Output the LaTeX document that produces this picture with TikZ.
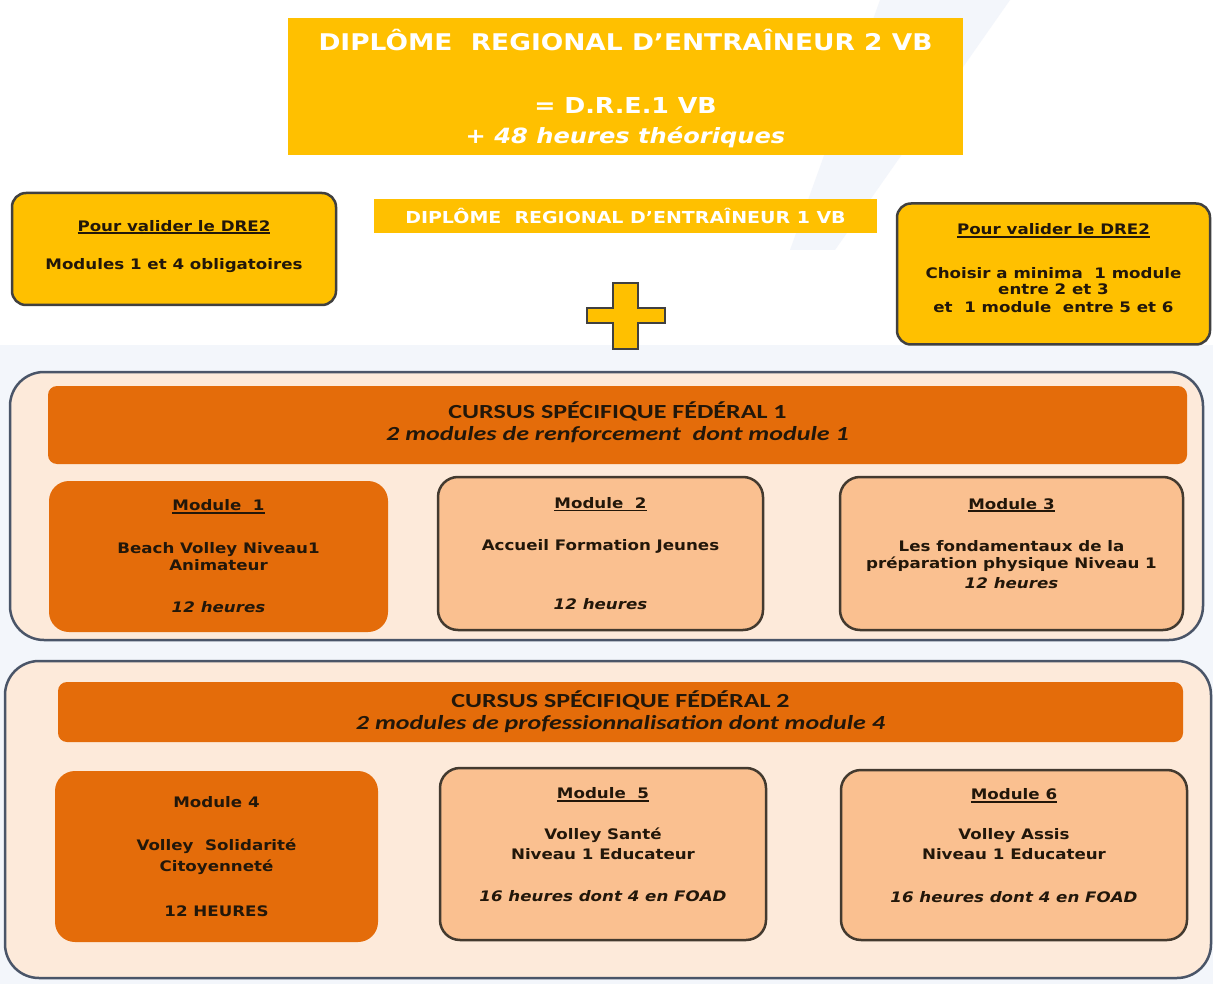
\documentclass[tikz,border=0pt]{standalone}
\usepackage{fontspec}
\setmainfont{DejaVu Sans}[FakeStretch=1.15]
\newfontfamily\calfont{Carlito}[FakeStretch=1.3]
\usepackage{tikz}
\definecolor{gold}{HTML}{FFC000}
\definecolor{burnt}{HTML}{E46C0A}
\definecolor{apricot}{HTML}{FAC090}
\definecolor{peach}{HTML}{FDEADA}
\definecolor{slate}{HTML}{4A5568}
\definecolor{ink}{HTML}{22170A}
\definecolor{haze}{HTML}{F3F6FB}
\newcommand{\ulined}[1]{\setbox0\hbox{#1}\rlap{\raisebox{-3pt}{\rule{\wd0}{1.6pt}}}\box0}

\tikzset{
	goldbox/.style={draw=darkgray, line width=2.5pt, fill=gold, rounded corners=14pt, text=ink, align=center, font=\fontsize{14.5}{16}\selectfont\bfseries},
	banner/.style={fill=gold, text=white, align=center, font=\bfseries},
	cursus/.style={draw=slate, line width=2.5pt, fill=peach, rounded corners=34pt},
	headbar/.style={fill=burnt, rounded corners=9pt, text=ink, align=center, font=\calfont\fontsize{20}{22}\selectfont\bfseries},
	modfull/.style={fill=burnt, rounded corners=20pt, text=ink, align=center, font=\fontsize{14.5}{17}\selectfont\bfseries},
	modopt/.style={modfull, fill=apricot, draw=ink!85, line width=2.5pt}
}

\begin{document}
\begin{tikzpicture}[x=1pt,y=-1pt]
	\useasboundingbox[fill=white] (0,0) rectangle (1213,984);
	\fill[haze] (880,0) -- (1010,0) -- (835,250) -- (790,250) -- cycle;
	\fill[haze] (0,345) rectangle (1213,984);
%
	\node[banner, minimum width=675pt, minimum height=137pt] (dre2) at (625.5,86.5)
		{\fontsize{23}{27}\selectfont DIPLÔME~ REGIONAL D'ENTRAÎNEUR 2 VB\\[46pt]
		 \fontsize{22}{26}\selectfont = D.R.E.1 VB\\[12pt]
		 \fontsize{21}{24}\selectfont\itshape + 48 heures théoriques\\[-12pt] \mbox{}};
	\node[banner, minimum width=503pt, minimum height=34pt, font=\fontsize{16.5}{19}\selectfont\bfseries] (dre1) at (625.5,216)
		{DIPLÔME~ REGIONAL D'ENTRAÎNEUR 1 VB};
	\node[goldbox, minimum width=324pt, minimum height=112pt] (oblig) at (174,249)
		{\ulined{Pour valider le DRE2}\\[22pt] Modules 1 et 4 obligatoires\\[-7pt] \mbox{}};
	\node[goldbox, minimum width=313pt, minimum height=141pt] (choix) at (1053.5,274)
		{\ulined{Pour valider le DRE2}\\[28pt] Choisir a minima~ 1 module\\ entre 2 et 3\\[2pt] et~ 1 module~ entre 5 et 6\\[-4pt] \mbox{}};
	\draw[draw=darkgray, line width=2.5pt, fill=gold] (613,283) -- (638,283) -- (638,308) -- (665,308) -- (665,323) -- (638,323)
		-- (638,349) -- (613,349) -- (613,323) -- (587,323) -- (587,308) -- (613,308) -- cycle;
%
	\node[cursus, minimum width=1193pt, minimum height=268pt] (cs1) at (606.5,506) {};
	\node[headbar, minimum width=1139pt, minimum height=78pt] (h1) at (617.5,425)
		{CURSUS SPÉCIFIQUE FÉDÉRAL 1\\ \itshape 2 modules de renforcement~ dont module 1\\[-14pt] \mbox{}};
	\node[modfull, minimum width=339pt, minimum height=151pt] (m1) at (218.5,556.5)
		{\ulined{Module~ 1}\\[26pt] Beach Volley Niveau1\\ Animateur\\[25pt] \itshape 12 heures};
	\node[modopt, minimum width=325pt, minimum height=153pt] (m2) at (600.5,553.5)
		{\ulined{Module~ 2}\\[25pt] Accueil Formation Jeunes\\[42pt] \itshape 12 heures};
	\node[modopt, minimum width=343pt, minimum height=153pt] (m3) at (1011.5,553.5)
		{\ulined{Module 3}\\[25pt] Les fondamentaux de la\\ préparation physique Niveau 1\\[3pt] \itshape 12 heures\\[4pt] \mbox{}};
%
	\node[cursus, minimum width=1206pt, minimum height=317pt] (cs2) at (608,819.5) {};
	\node[headbar, minimum width=1125pt, minimum height=60pt] (h2) at (620.5,712)
		{CURSUS SPÉCIFIQUE FÉDÉRAL 2\\ \itshape 2 modules de professionnalisation dont module 4};
	\node[modfull, minimum width=323pt, minimum height=171pt] (m4) at (216.5,856.5)
		{Module 4\\[26pt] Volley~ Solidarité\\[4pt] Citoyenneté\\[28pt] 12 HEURES};
	\node[modopt, minimum width=326pt, minimum height=172pt] (m5) at (603,854)
		{\ulined{Module~ 5}\\[24pt] Volley Santé\\[3pt] Niveau 1 Educateur\\[25pt] \itshape 16 heures dont 4 en FOAD\\[2pt] \mbox{}};
	\node[modopt, minimum width=346pt, minimum height=170pt] (m6) at (1014,855)
		{\ulined{Module 6}\\[23pt] Volley Assis\\[3pt] Niveau 1 Educateur\\[26pt] \itshape 16 heures dont 4 en FOAD\\[2pt] \mbox{}};
\end{tikzpicture}
\end{document}
